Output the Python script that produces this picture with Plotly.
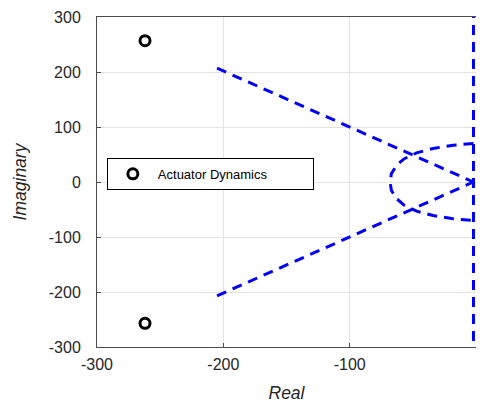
import plotly.graph_objects as go

# Data
pole_re = [-262, -262]
pole_im = [257, -257]

upper_re = [-205, -2]
upper_im = [207, 0]
lower_re = [-205, -2]
lower_im = [-207, 0]

loop_re = [-2, -18, -34, -47, -57, -63, -67, -68, -67, -63, -57, -47, -34, -18, -2]
loop_im = [70, 67, 61, 53, 42, 30, 15, 0, -15, -30, -42, -53, -61, -67, -70]

vert_re = [-2, -2]
vert_im = [-320, 320]

xticks = [-300, -200, -100, 0]
yticks = [-300, -200, -100, 0, 100, 200, 300]

blue = "rgb(0,0,255)"
dash = "10px,7px"
font_fam = "Liberation Sans, Arial"

fig = go.Figure()
for xr, yi in [(upper_re, upper_im), (lower_re, lower_im), (loop_re, loop_im), (vert_re, vert_im)]:
    fig.add_trace(go.Scatter(x=xr, y=yi, mode="lines", showlegend=False,
                             line=dict(color=blue, width=3, dash=dash), hoverinfo="skip"))

fig.add_trace(go.Scatter(x=pole_re, y=pole_im, mode="markers", name="Actuator Dynamics",
                         marker=dict(symbol="circle-open", size=10, color="black",
                                     line=dict(width=3, color="black"))))

axis_common = dict(
    showgrid=True, gridcolor="#e3e3e3", gridwidth=1,
    showline=True, linecolor="#4d4d4d", linewidth=1, mirror=True,
    ticks="inside", ticklen=4, tickcolor="#4d4d4d",
    tickfont=dict(family=font_fam, size=16, color="#262626"),
    zeroline=False,
)

fig.update_layout(
    width=468, height=395,
    margin=dict(l=89, r=0, t=9, b=56, autoexpand=False),
    plot_bgcolor="white", paper_bgcolor="white",
    xaxis=dict(range=[-300, 0], tickvals=xticks, ticktext=[str(v) for v in xticks],
               title=dict(text="<i>Real</i>", font=dict(family=font_fam, size=17.5, color="#262626"), standoff=22),
               ticklabelstandoff=3,
               **axis_common),
    yaxis=dict(range=[-300, 300], tickvals=yticks, ticktext=[str(v) for v in yticks],
               title=dict(text="<i>Imaginary</i>", font=dict(family=font_fam, size=17.5, color="#262626"), standoff=17),
               ticklabelstandoff=12,
               **axis_common),
    legend=dict(x=0.026, y=0.573, xanchor="left", yanchor="top", orientation="h",
                bordercolor="black", borderwidth=1, bgcolor="white",
                entrywidth=150, entrywidthmode="pixels", itemwidth=40,
                font=dict(family=font_fam, size=13, color="black")),
    showlegend=True,
)

fig.write_html("out.html")
